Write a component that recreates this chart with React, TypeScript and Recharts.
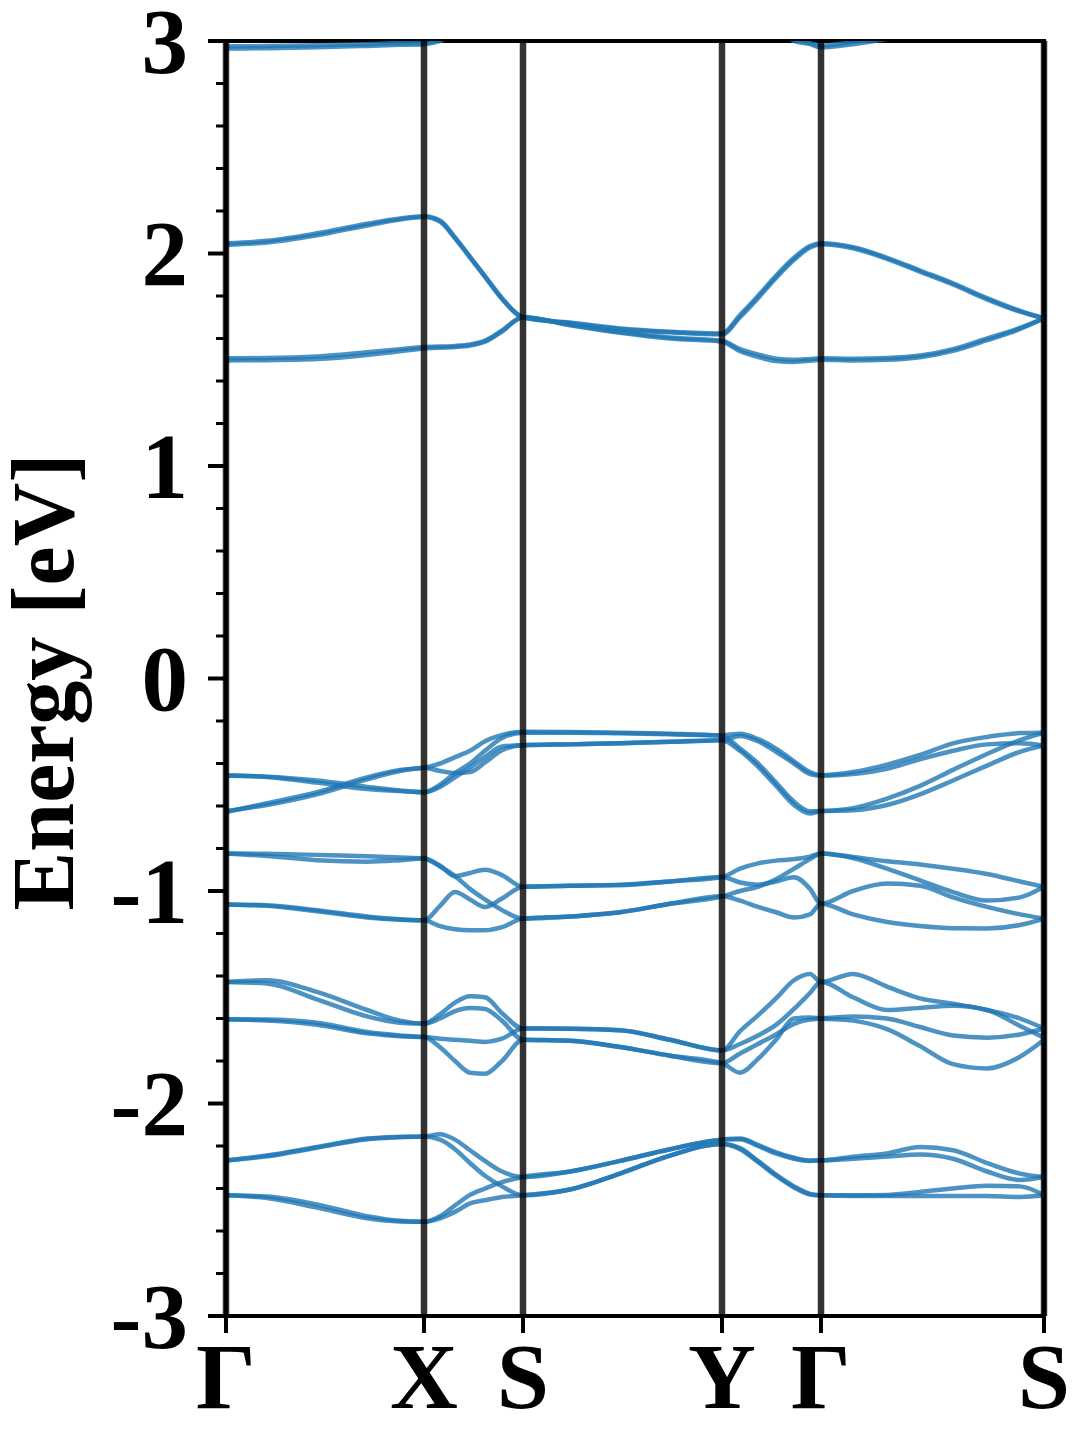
import React from 'react';
import { LineChart, Line, XAxis, YAxis, ReferenceLine, ReferenceArea } from 'recharts';

// k-path distance (Γ-X-S-Y-Γ-S)
const kPath = [0, 0.41, 0.91, 1.41, 1.74, 1.98, 2.14, 2.29, 2.44, 2.59, 2.76, 2.97, 3.44, 3.94, 4.44, 4.96, 5.14, 5.32, 5.5, 5.68, 5.84, 5.95, 6.27, 6.61, 6.94, 7.27, 7.61, 7.94, 8.18];
const highSymK = [0, 1.98, 2.97, 4.96, 5.95, 8.18];
const highSymLabels = ['Γ', 'X', 'S', 'Y', 'Γ', 'S'];
const yTicks = [-3, -2.8, -2.6, -2.4, -2.2, -2, -1.8, -1.6, -1.4, -1.2, -1, -0.8, -0.6, -0.4, -0.2, 0, 0.2, 0.4, 0.6, 0.8, 1, 1.2, 1.4, 1.6, 1.8, 2, 2.2, 2.4, 2.6, 2.8, 3];

// conduction bands (eV)
const CT1 = [2.975, 2.976, 2.98, 2.985, 2.99, 2.99, 3.01, 3.05, 3.1, 3.15, 3.2, 3.25, 3.3, 3.35, 3.4, 3.4, 3.35, 3.25, 3.12, 3.01, 2.99, 2.978, 2.995, 3.02, 3.06, 3.1, 3.15, 3.2, 3.25];
const CT2 = [2.965, 2.966, 2.97, 2.977, 2.982, 2.985, 3.0, 3.04, 3.09, 3.14, 3.19, 3.24, 3.29, 3.34, 3.39, 3.39, 3.34, 3.24, 3.11, 3.0, 2.985, 2.97, 2.985, 3.01, 3.05, 3.09, 3.14, 3.19, 3.24];
const C2a = [2.048, 2.06, 2.095, 2.14, 2.165, 2.175, 2.155, 2.076, 1.985, 1.894, 1.79, 1.7, 1.675, 1.647, 1.632, 1.624, 1.71, 1.8, 1.895, 1.98, 2.035, 2.048, 2.03, 1.98, 1.92, 1.86, 1.79, 1.73, 1.695];
const C2b = [2.04, 2.052, 2.086, 2.132, 2.16, 2.172, 2.15, 2.072, 1.981, 1.89, 1.786, 1.7, 1.672, 1.644, 1.629, 1.62, 1.7, 1.79, 1.885, 1.97, 2.028, 2.044, 2.025, 1.975, 1.914, 1.854, 1.784, 1.726, 1.695];
const C1a = [1.507, 1.508, 1.515, 1.535, 1.55, 1.56, 1.562, 1.565, 1.572, 1.59, 1.638, 1.7, 1.665, 1.63, 1.605, 1.59, 1.55, 1.525, 1.505, 1.5, 1.504, 1.507, 1.505, 1.508, 1.52, 1.55, 1.6, 1.65, 1.695];
const C1b = [1.497, 1.498, 1.503, 1.522, 1.54, 1.553, 1.557, 1.56, 1.567, 1.585, 1.633, 1.7, 1.662, 1.627, 1.6, 1.585, 1.54, 1.513, 1.494, 1.49, 1.495, 1.5, 1.497, 1.5, 1.512, 1.542, 1.592, 1.645, 1.695];

// valence bands (eV)
const V1a = [-0.455, -0.463, -0.49, -0.52, -0.53, -0.535, -0.5, -0.445, -0.4, -0.34, -0.28, -0.255, -0.255, -0.258, -0.262, -0.267, -0.26, -0.285, -0.33, -0.39, -0.44, -0.455, -0.44, -0.405, -0.36, -0.305, -0.275, -0.257, -0.255];
const V1b = [-0.458, -0.462, -0.48, -0.51, -0.527, -0.535, -0.51, -0.465, -0.42, -0.37, -0.32, -0.314, -0.31, -0.305, -0.298, -0.29, -0.27, -0.295, -0.345, -0.4, -0.45, -0.458, -0.45, -0.425, -0.38, -0.34, -0.31, -0.305, -0.315];
const V1c = [-0.628, -0.587, -0.535, -0.465, -0.43, -0.42, -0.4, -0.37, -0.34, -0.295, -0.265, -0.25, -0.252, -0.255, -0.26, -0.27, -0.33, -0.4, -0.49, -0.58, -0.625, -0.624, -0.61, -0.565, -0.505, -0.43, -0.355, -0.29, -0.255];
const V1d = [-0.624, -0.595, -0.545, -0.475, -0.435, -0.42, -0.435, -0.445, -0.44, -0.395, -0.337, -0.314, -0.31, -0.305, -0.298, -0.29, -0.34, -0.415, -0.505, -0.595, -0.635, -0.624, -0.62, -0.595, -0.545, -0.48, -0.41, -0.345, -0.315];
const V2a = [-0.823, -0.825, -0.83, -0.836, -0.842, -0.847, -0.885, -0.93, -0.99, -1.04, -1.09, -1.13, -1.12, -1.1, -1.06, -1.025, -1.045, -1.075, -1.1, -1.125, -1.11, -1.06, -1.11, -1.146, -1.165, -1.175, -1.176, -1.16, -1.13];
const V2b = [-0.823, -0.835, -0.855, -0.862, -0.855, -0.847, -0.88, -0.93, -0.915, -0.9, -0.925, -0.98, -0.975, -0.973, -0.955, -0.934, -0.895, -0.87, -0.857, -0.85, -0.838, -0.823, -0.84, -0.86, -0.875, -0.895, -0.92, -0.955, -0.98];
const V2c = [-1.063, -1.067, -1.09, -1.12, -1.133, -1.138, -1.07, -1.005, -1.04, -1.075, -1.035, -0.98, -0.975, -0.97, -0.955, -0.934, -0.96, -0.97, -0.955, -0.935, -0.99, -1.06, -1.0, -0.965, -0.975, -1.03, -1.075, -1.11, -1.13];
const V2d = [-1.063, -1.07, -1.095, -1.125, -1.135, -1.138, -1.165, -1.18, -1.185, -1.185, -1.17, -1.13, -1.12, -1.1, -1.06, -1.025, -1.0, -0.98, -0.945, -0.895, -0.85, -0.823, -0.845, -0.895, -0.95, -1.005, -1.045, -1.03, -0.98];
const V3a = [-1.428, -1.42, -1.475, -1.56, -1.61, -1.624, -1.58, -1.525, -1.495, -1.5, -1.575, -1.647, -1.648, -1.655, -1.7, -1.75, -1.66, -1.585, -1.505, -1.42, -1.39, -1.428, -1.39, -1.45, -1.505, -1.53, -1.56, -1.6, -1.647];
const V3b = [-1.428, -1.435, -1.51, -1.59, -1.62, -1.624, -1.6, -1.565, -1.55, -1.555, -1.61, -1.7, -1.705, -1.734, -1.775, -1.81, -1.855, -1.79, -1.7, -1.6, -1.595, -1.6, -1.61, -1.65, -1.73, -1.815, -1.835, -1.78, -1.7];
const V3c = [-1.604, -1.605, -1.62, -1.664, -1.68, -1.687, -1.695, -1.7, -1.705, -1.71, -1.695, -1.647, -1.648, -1.655, -1.7, -1.75, -1.72, -1.68, -1.63, -1.555, -1.48, -1.428, -1.5, -1.56, -1.55, -1.54, -1.56, -1.635, -1.69];
const V3d = [-1.604, -1.61, -1.63, -1.67, -1.684, -1.687, -1.735, -1.8, -1.855, -1.86, -1.8, -1.7, -1.705, -1.734, -1.775, -1.81, -1.765, -1.72, -1.675, -1.625, -1.605, -1.6, -1.59, -1.6, -1.64, -1.68, -1.69, -1.675, -1.647];
const V4a = [-2.268, -2.245, -2.205, -2.165, -2.157, -2.155, -2.145, -2.17, -2.22, -2.27, -2.32, -2.346, -2.32, -2.27, -2.215, -2.17, -2.165, -2.195, -2.23, -2.255, -2.268, -2.268, -2.25, -2.235, -2.205, -2.22, -2.28, -2.33, -2.346];
const V4b = [-2.268, -2.248, -2.208, -2.168, -2.159, -2.155, -2.17, -2.215, -2.28, -2.34, -2.39, -2.432, -2.405, -2.33, -2.245, -2.19, -2.21, -2.27, -2.335, -2.39, -2.425, -2.432, -2.432, -2.43, -2.416, -2.4, -2.387, -2.39, -2.432];
const V4c = [-2.432, -2.445, -2.49, -2.54, -2.555, -2.557, -2.53, -2.48, -2.43, -2.4, -2.37, -2.346, -2.32, -2.27, -2.215, -2.17, -2.168, -2.2, -2.235, -2.26, -2.27, -2.268, -2.26, -2.25, -2.24, -2.26, -2.32, -2.36, -2.346];
const V4d = [-2.432, -2.438, -2.475, -2.53, -2.552, -2.557, -2.54, -2.51, -2.47, -2.455, -2.44, -2.432, -2.405, -2.33, -2.245, -2.19, -2.215, -2.275, -2.34, -2.395, -2.428, -2.432, -2.435, -2.435, -2.435, -2.435, -2.435, -2.44, -2.432];

const bandList: [string, number[]][] = [
  ['CT1', CT1], ['CT2', CT2], ['C2a', C2a], ['C2b', C2b], ['C1a', C1a], ['C1b', C1b],
  ['V1a', V1a], ['V1b', V1b], ['V1c', V1c], ['V1d', V1d],
  ['V2a', V2a], ['V2b', V2b], ['V2c', V2c], ['V2d', V2d],
  ['V3a', V3a], ['V3b', V3b], ['V3c', V3c], ['V3d', V3d],
  ['V4a', V4a], ['V4b', V4b], ['V4c', V4c], ['V4d', V4d],
];

const rows = kPath.map((k, i) => {
  const r: Record<string, number> = { k };
  bandList.forEach(([name, arr]) => { r[name] = arr[i]; });
  return r;
});

const FONT = "'Liberation Serif', 'Times New Roman', serif";
const BAND_COLOR = '#1f77b4';

const YTick = (props: any) => {
  const { x, y, payload } = props;
  const v = payload.value as number;
  const isMajor = Math.abs(v - Math.round(v)) < 1e-6;
  return (
    <g>
      <line x1={x} x2={x - (isMajor ? 18 : 10)} y1={y} y2={y} stroke="#000" strokeWidth={isMajor ? 4 : 3} />
      {isMajor && (
        <text x={x - 38} y={y} dy="0.34em" textAnchor="end" fontSize={93} fontWeight="bold" fontFamily={FONT} fill="#000">
          {String(Math.round(v))}
        </text>
      )}
    </g>
  );
};

const XTick = (props: any) => {
  const { x, y, payload } = props;
  const idx = highSymK.findIndex((k) => Math.abs(k - payload.value) < 1e-6);
  return (
    <g>
      <line x1={x} x2={x} y1={y} y2={y + 17} stroke="#000" strokeWidth={4} />
      <text x={x} y={y + 92} textAnchor="middle" fontSize={94} fontWeight="bold" fontFamily={FONT} fill="#000">
        {idx >= 0 ? highSymLabels[idx] : ''}
      </text>
    </g>
  );
};

export default function App() {
  return (
    <div style={{ position: 'absolute', left: 0, top: 0, width: 1080, height: 1440, background: '#fff' }}>
      <LineChart width={1080} height={1440} data={rows} margin={{ top: 41, right: 36, left: 0, bottom: 0 }}>
        <XAxis
          dataKey="k"
          type="number"
          domain={[0, 8.18]}
          ticks={highSymK}
          interval={0}
          allowDataOverflow
          height={124}
          tickSize={0}
          tickMargin={0}
          tickLine={false}
          axisLine={{ stroke: '#000', strokeWidth: 4 }}
          tick={<XTick />}
        />
        <YAxis
          type="number"
          domain={[-3, 3]}
          ticks={yTicks}
          interval={0}
          allowDataOverflow
          width={226}
          tickSize={0}
          tickMargin={0}
          tickLine={false}
          axisLine={{ stroke: '#000', strokeWidth: 4 }}
          tick={<YTick />}
        />
        {bandList.map(([name]) => (
          <Line
            key={name}
            dataKey={name}
            type="monotone"
            stroke={BAND_COLOR}
            strokeOpacity={0.8}
            strokeWidth={4.5}
            dot={false}
            activeDot={false}
            isAnimationActive={false}
          />
        ))}
        {highSymK.map((k, i) => (
          <ReferenceLine key={'v' + i} x={k} stroke="#000" strokeOpacity={0.8} strokeWidth={6.5} />
        ))}
        <ReferenceArea x1={0} x2={8.18} y1={-3} y2={3} fill="none" fillOpacity={0} stroke="#000" strokeWidth={4} />
      </LineChart>
      <svg width={1080} height={1440} style={{ position: 'absolute', left: 0, top: 0, pointerEvents: 'none' }}>
        <text
          transform="translate(73,682) rotate(-90)"
          textAnchor="middle"
          fontSize={88}
          fontWeight="bold"
          fontFamily={FONT}
          fill="#000"
        >
          Energy [eV]
        </text>
      </svg>
    </div>
  );
}
